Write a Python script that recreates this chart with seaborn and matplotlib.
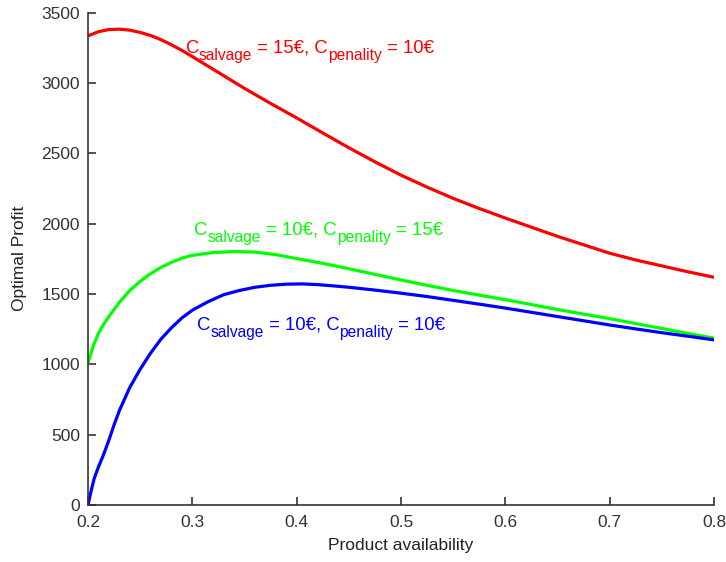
import matplotlib
matplotlib.use("Agg")
import matplotlib.pyplot as plt
import seaborn as sns
import pandas as pd

# Data
red_x = [0.2, 0.21, 0.22, 0.23, 0.24, 0.25, 0.26, 0.27, 0.28, 0.29, 0.3, 0.325, 0.35, 0.375, 0.4, 0.425, 0.45,
         0.475, 0.5, 0.525, 0.55, 0.575, 0.6, 0.625, 0.65, 0.675, 0.7, 0.725, 0.75, 0.775, 0.8]
red_y = [3335, 3365, 3380, 3383, 3376, 3360, 3338, 3308, 3272, 3232, 3188, 3075, 2962, 2855, 2752, 2645, 2540,
         2440, 2345, 2260, 2180, 2108, 2040, 1975, 1910, 1850, 1790, 1742, 1700, 1658, 1619]

green_x = [0.2, 0.205, 0.21, 0.215, 0.22, 0.23, 0.24, 0.25, 0.26, 0.27, 0.28, 0.29, 0.3, 0.32, 0.34,
           0.36, 0.38, 0.4, 0.425, 0.45, 0.475, 0.5, 0.525, 0.55, 0.575, 0.6, 0.625, 0.65, 0.675,
           0.7, 0.725, 0.75, 0.775, 0.8]
green_y = [1010, 1130, 1220, 1285, 1340, 1440, 1525, 1590, 1645, 1690, 1725, 1755, 1775, 1795, 1802,
           1798, 1780, 1752, 1718, 1680, 1640, 1600, 1562, 1525, 1492, 1460, 1425, 1390, 1357,
           1325, 1290, 1255, 1220, 1186]

blue_x = [0.2, 0.203, 0.206, 0.21, 0.215, 0.22, 0.225, 0.23, 0.24, 0.25, 0.26, 0.27, 0.28, 0.29, 0.3,
          0.315, 0.33, 0.345, 0.36, 0.375, 0.39, 0.405, 0.42, 0.435, 0.45, 0.475, 0.5, 0.525, 0.55,
          0.575, 0.6, 0.625, 0.65, 0.675, 0.7, 0.725, 0.75, 0.775, 0.8]
blue_y = [0, 100, 190, 270, 360, 460, 570, 670, 835, 965, 1080, 1180, 1260, 1330, 1385,
          1445, 1495, 1525, 1548, 1562, 1570, 1572, 1567, 1558, 1548, 1528, 1506, 1482, 1455,
          1428, 1400, 1370, 1340, 1310, 1280, 1252, 1225, 1200, 1174]

# label pieces: (main, sub, main, sub, main)
label_parts = [["C", "salvage", " = 15€, C", "penality", " = 10€"],
               ["C", "salvage", " = 10€, C", "penality", " = 15€"],
               ["C", "salvage", " = 10€, C", "penality", " = 10€"]]
label_x = [0.2935, 0.302, 0.3045]
label_y = [3215, 1921, 1245]

x_ticks = [0.2, 0.3, 0.4, 0.5, 0.6, 0.7, 0.8]
y_ticks = [0, 500, 1000, 1500, 2000, 2500, 3000, 3500]

sns.set_style("ticks")
plt.rcParams["font.family"] = ["Liberation Sans", "DejaVu Sans"]

fig = plt.figure(figsize=(7.26, 5.62), dpi=100)
ax = fig.add_axes([0.1212, 0.1014, 0.8623, 0.876])

colors = ["#ff0000", "#00ff00", "#0000ff"]
for xs, ys, c in [(red_x, red_y, colors[0]), (green_x, green_y, colors[1]), (blue_x, blue_y, colors[2])]:
    df = pd.DataFrame({"x": xs, "y": ys})
    sns.lineplot(data=df, x="x", y="y", color=c, linewidth=2.3, ax=ax, estimator=None, sort=False)

for parts, lx, ly, c in zip(label_parts, label_x, label_y, colors):
    prev = ax.text(lx, ly, parts[0], color=c, fontsize=13.3, va="baseline", ha="left")
    for i, p in enumerate(parts[1:], start=1):
        is_sub = (i % 2 == 1)
        prev = ax.annotate(p, xy=(1, ly), xycoords=(prev, "data"),
                           xytext=(0, -5 if is_sub else 0), textcoords="offset points",
                           color=c, fontsize=11.2 if is_sub else 13.3, va="baseline", ha="left")

ax.set_xlim(0.2, 0.8)
ax.set_ylim(0, 3500)
ax.set_xticks(x_ticks)
ax.set_xticklabels([str(v) for v in x_ticks])
ax.set_yticks(y_ticks)
ax.set_yticklabels([str(v) for v in y_ticks])
ax.set_xlabel("Product availability", fontsize=12.5, color="#222222")
ax.set_ylabel("Optimal Profit", fontsize=12.5, color="#222222")
ax.xaxis.set_label_coords(0.5, -0.067)
ax.yaxis.set_label_coords(-0.098, 0.5)

for s in ["top", "right"]:
    ax.spines[s].set_visible(False)
for s in ["left", "bottom"]:
    ax.spines[s].set_color("#333333")
    ax.spines[s].set_linewidth(1.2)
ax.tick_params(direction="in", length=6, width=1.2, color="#333333", labelsize=12.5, labelcolor="#333333")
ax.tick_params(axis="x", pad=7)
ax.tick_params(axis="y", pad=5.8)

fig.savefig("out.png", dpi=100)
